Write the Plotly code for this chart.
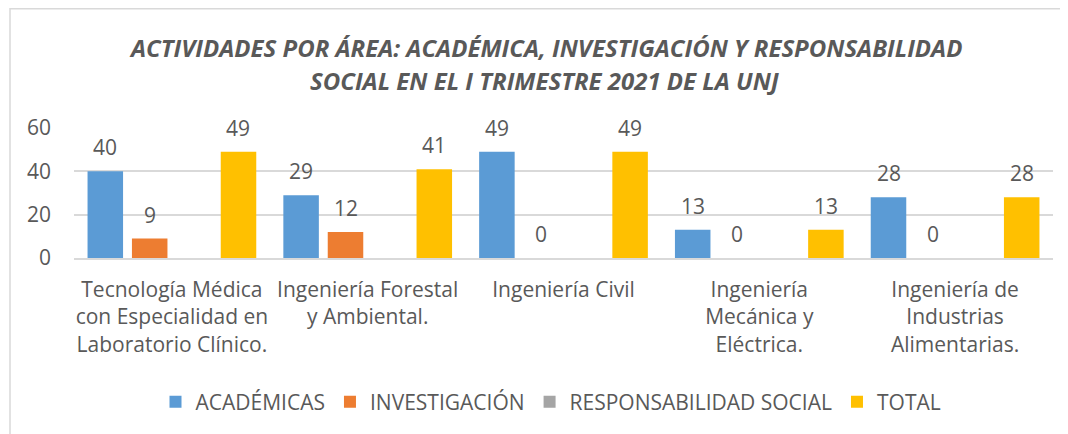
import plotly.graph_objects as go

categories = [
    "Tecnología Médica con Especialidad en Laboratorio Clínico.",
    "Ingeniería Forestal y Ambiental.",
    "Ingeniería Civil",
    "Ingeniería Mecánica y Eléctrica.",
    "Ingeniería de Industrias Alimentarias.",
]
tick_labels = [
    "Tecnología Médica<br>con Especialidad en<br>Laboratorio Clínico.",
    "Ingeniería Forestal<br>y Ambiental.",
    "Ingeniería Civil",
    "Ingeniería<br>Mecánica y<br>Eléctrica.",
    "Ingeniería de<br>Industrias<br>Alimentarias.",
]
academicas = [40, 29, 49, 13, 28]
investigacion = [9, 12, 0, 0, 0]
responsabilidad = [0, 0, 0, 0, 0]
total = [49, 41, 49, 13, 28]

series = [
    ("ACADÉMICAS", academicas, "#5B9BD5", True),
    ("INVESTIGACIÓN", investigacion, "#ED7D31", True),
    ("RESPONSABILIDAD SOCIAL", responsabilidad, "#A5A5A5", False),
    ("TOTAL", total, "#FFC000", True),
]

# page has an 8px body margin: figure is drawn at page (8, 8)
OFF = 8
W, H = 1068 - OFF, 434 - OFF
PL, PR, PT, PB = 74, 1053, 128, 258          # plot area in page pixels
ML, MT = PL - OFF, PT - OFF
MR, MB = W - (PR - OFF), H - (PB - OFF)
plot_w, plot_h = PR - PL, PB - PT
BARGAP = 0.093
BARGROUPGAP = 0.2
TXT = "#595959"
FONT = "Open Sans"


def px_x(x):
    return (x - PL) / plot_w


def px_y(y):
    return (PB - y) / plot_h


fig = go.Figure()
for name, vals, color, _ in series:
    fig.add_trace(go.Bar(name=name, x=categories, y=vals, marker_color=color,
                         marker_line_width=0, cliponaxis=False))

slot = plot_w / len(categories) * (1 - BARGAP) / len(series)
annotations = []
for i, (name, vals, color, show) in enumerate(series):
    if not show:
        continue
    off = (i - (len(series) - 1) / 2) * slot
    for c, v in zip(categories, vals):
        annotations.append(dict(x=c, y=v, xref="x", yref="y", text=str(v),
                                showarrow=False, xshift=off, yshift=24,
                                yanchor="middle",
                                font=dict(family=FONT, size=21, color=TXT)))

title_lines = ["ACTIVIDADES POR ÁREA: ACADÉMICA, INVESTIGACIÓN Y RESPONSABILIDAD",
               "SOCIAL EN EL I TRIMESTRE 2021 DE LA UNJ"]
for line, ypx in zip(title_lines, [47, 80]):
    annotations.append(dict(x=px_x(545), y=px_y(ypx), xref="paper", yref="paper",
                            text=f"<b><i>{line}</i></b>", showarrow=False,
                            xanchor="center", yanchor="middle",
                            font=dict(family=FONT, size=24, color=TXT)))

fig.update_layout(
    width=W, height=H,
    margin=dict(l=ML, r=MR, t=MT, b=MB, pad=0),
    paper_bgcolor="white", plot_bgcolor="white",
    barmode="group", bargap=BARGAP, bargroupgap=BARGROUPGAP,
    font=dict(family=FONT, size=21, color=TXT),
    showlegend=True,
    legend=dict(orientation="h", x=px_x(551), xanchor="center",
                y=px_y(402), yanchor="middle",
                font=dict(family=FONT, size=21, color=TXT),
                traceorder="normal"),
    annotations=annotations,
    shapes=[dict(type="rect", xref="paper", yref="paper",
                 x0=px_x(10), x1=px_x(1085),
                 y0=px_y(450), y1=px_y(8.7),
                 line=dict(color="#D9D9D9", width=1.5), fillcolor="rgba(0,0,0,0)",
                 layer="below")],
)
fig.update_xaxes(tickmode="array", tickvals=categories, ticktext=tick_labels,
                 showline=True, linecolor="#D9D9D9", linewidth=1.5,
                 ticks="", showgrid=False, tickfont=dict(family=FONT, size=21, color=TXT),
                 ticklabelstandoff=12)
fig.update_yaxes(range=[0, 60], tickvals=[0, 20, 40, 60], showgrid=True,
                 gridcolor="#D9D9D9", gridwidth=1.5, zeroline=False, showline=False,
                 ticks="", tickfont=dict(family=FONT, size=21, color=TXT),
                 ticklabelstandoff=22)

fig.write_html("out.html")
